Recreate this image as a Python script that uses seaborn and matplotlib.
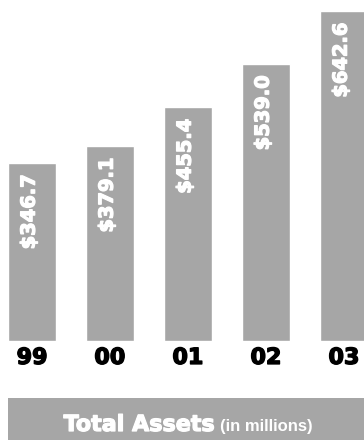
import matplotlib
matplotlib.use("Agg")
import matplotlib.pyplot as plt
from matplotlib.patches import Rectangle
import matplotlib.patheffects as pe
import seaborn as sns
import pandas as pd

years = ["99", "00", "01", "02", "03"]
assets = [346.7, 379.1, 455.4, 539.0, 642.6]
value_labels = ["$346.7", "$379.1", "$455.4", "$539.0", "$642.6"]
title_main = "Total Assets"
title_sub = "(in millions)"

GRAY = "#a6a6a6"
W, H = 364, 440
sns.set_theme(style="white")
plt.rcParams['font.family'] = ['DejaVu Sans']

fig = plt.figure(figsize=(W / 100, H / 100), dpi=100)
ax = fig.add_axes([0, (H - 341) / H, 1, 341 / H])

df = pd.DataFrame({"year": years, "assets": assets})
sns.barplot(data=df, x="year", y="assets", order=years, color=GRAY,
            saturation=1, width=0.615, ax=ax)

ax.set_xlim(-32 / 78, (364 - 32) / 78)
ax.set_ylim(0, 642.6 * 341 / 330)
for s in ax.spines.values():
    s.set_visible(False)
ax.set_yticks([])
ax.set_xlabel("")
ax.set_ylabel("")
ax.tick_params(axis="x", length=0, pad=5)
ax.set_xticks(range(len(years)))
ax.set_xticklabels(years, fontsize=16, fontweight="bold", color="black")
for t in ax.get_xticklabels():
    t.set_path_effects([pe.withStroke(linewidth=1.0, foreground="black")])

for i, (v, lab) in enumerate(zip(assets, value_labels)):
    ax.annotate(lab, xy=(i, v), xytext=(-2, -8), textcoords="offset points",
                rotation=90, ha="center", va="top", color="white",
                fontsize=14, fontweight="bold",
                path_effects=[pe.withStroke(linewidth=0.9, foreground="white")])

fig.patches.append(Rectangle((8 / W, 0), (W - 8) / W, 42 / H,
                             transform=fig.transFigure, facecolor=GRAY,
                             edgecolor="none", zorder=0))
fig.text(215 / W, 9 / H, title_main, ha="right", va="baseline",
         color="white", fontsize=16, fontweight="bold",
         path_effects=[pe.withStroke(linewidth=0.9, foreground="white")])
fig.text(220 / W, 9 / H, title_sub, ha="left", va="baseline",
         color="white", fontsize=12, fontweight="bold",
         family=["Liberation Sans", "DejaVu Sans"])

fig.savefig("out.png", dpi=100)
